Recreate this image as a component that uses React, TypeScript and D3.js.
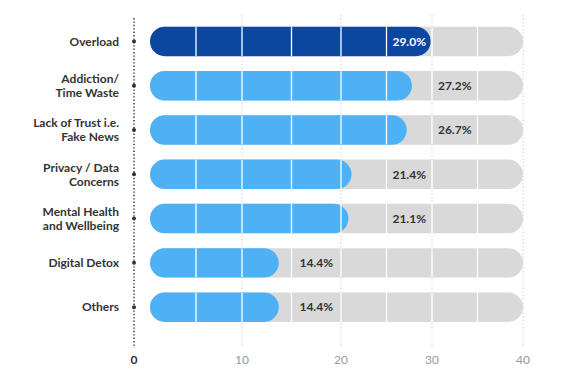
import React from 'react';
import * as d3 from 'd3';

const categories = [
    'Overload',
    'Addiction/\nTime Waste',
    'Lack of Trust i.e.\nFake News',
    'Privacy / Data\nConcerns',
    'Mental Health\nand Wellbeing',
    'Digital Detox',
    'Others'
]
const values = [29.0, 27.2, 26.7, 21.4, 21.1, 14.4, 14.4]
const highlighted = ['Overload']
const ticks = [0, 10, 20, 30, 40]
const separators = [5, 10, 15, 20, 25, 30, 35]

const width = 578
const height = 384
const axisLeft = 134
const font = 'Lato, "Open Sans", sans-serif'

const dark = '#0b47a0'
const light = '#4fb1f5'
const track = '#d9d9d9'

const App = () => {

    // track / grid scale (the drawn ruler is not evenly spaced in the picture)
    const gridX = d3.scaleLinear()
        .domain(ticks)
        .range([150, 242, 341, 432, 523])

    // value scale for the bar ends
    const valueX = d3.scaleLinear()
        .domain([0, 40])
        .range([129, 545])

    const y = d3.scaleBand()
        .domain(categories)
        .range([19.3, 329.3])
        .paddingInner(0.335)
        .paddingOuter(0.1675)

    const bw = y.bandwidth()
    const r = bw / 2
    const axisTop = 18
    const axisBottom = 348

    return (
        <div style={{position: 'absolute', left: 0, top: 0}}>
            <svg width={width} height={height} style={{display: 'block', background: '#fff'}}>
                {/* light dotted gridlines */}
                {ticks.slice(1).map(t => (
                    <line key={'g' + t} x1={gridX(t)} x2={gridX(t)} y1={axisTop - 3} y2={axisBottom}
                        stroke='#cfcfcf' strokeWidth={1} strokeDasharray='1.5,2' />
                ))}

                {categories.map((c, i) => {
                    const y0 = y(c)
                    const cy = y0 + bw / 2
                    const hi = highlighted.includes(c)
                    const v = values[i]
                    const x0 = gridX(0)
                    const x1 = valueX(v)
                    const clipId = 'clip' + i
                    const lines = c.split('\n')
                    const labelCell = Math.floor(v / 5) * 5 + (hi ? 2.5 : 7.5)
                    return (
                        <g key={c}>
                            <defs>
                                <clipPath id={clipId}>
                                    <rect x={x0} y={y0} width={gridX(40) - x0} height={bw} rx={r} ry={r} />
                                </clipPath>
                            </defs>
                            <rect x={x0} y={y0} width={gridX(40) - x0} height={bw} rx={r} ry={r} fill={track} />
                            <rect x={x0} y={y0} width={x1 - x0} height={bw} rx={r} ry={r} fill={hi ? dark : light} />
                            <g clipPath={`url(#${clipId})`}>
                                {separators.map(s => (
                                    <line key={s} x1={gridX(s)} x2={gridX(s)} y1={y0} y2={y0 + bw}
                                        stroke='#fff' strokeWidth={1.3} />
                                ))}
                            </g>
                            <text x={gridX(labelCell)} y={cy + 4.3} textAnchor='middle'
                                fontFamily={font} fontWeight={700} fontSize={12}
                                fill={hi ? '#fff' : '#333'}>
                                {v.toFixed(1) + '%'}
                            </text>
                            <text x={119} textAnchor='end' fontFamily={font} fontWeight={700}
                                fontSize={12} fill='#333'>
                                {lines.map((l, j) => (
                                    <tspan key={j} x={119}
                                        y={cy + 4.3 + (j - (lines.length - 1) / 2) * 14}>{l}</tspan>
                                ))}
                            </text>
                            <circle cx={axisLeft} cy={cy} r={2} fill='#333' />
                        </g>
                    )
                })}

                {/* zero axis */}
                <line x1={axisLeft} x2={axisLeft} y1={axisTop} y2={axisBottom}
                    stroke='#333' strokeWidth={1.4} strokeDasharray='1.4,2' />

                {ticks.map(t => (
                    <text key={'t' + t} x={t === 0 ? axisLeft : gridX(t)} y={364}
                        textAnchor='middle' fontFamily={font} fontSize={12}
                        fontWeight={t === 0 ? 700 : 400}
                        fill={t === 0 ? '#333' : '#999'}>
                        {t}
                    </text>
                ))}
            </svg>
        </div>
    );
}

export default App;
